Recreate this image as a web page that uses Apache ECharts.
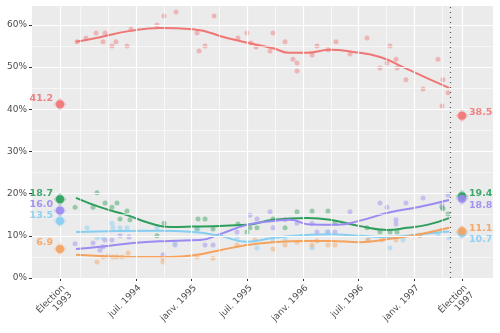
<!DOCTYPE html>
<html>
<head>
<meta charset="utf-8">
<script src="https://cdn.jsdelivr.net/npm/echarts@6/dist/echarts.min.js"></script>
<style>
  html, body { margin: 0; padding: 0; background: #ffffff; }
  #chart { width: 500px; height: 333px; }
</style>
</head>
<body>
<div id="chart"></div>
<script>
// Horizontal positions are expressed in months counted from January 1993.
const xTickValues = [9.81, 18, 24, 30, 36, 42, 48, 53.13];
const xTickLabels = ['Élection\n1993', 'juil. 1994', 'janv. 1995', 'juil. 1995',
                     'janv. 1996', 'juil. 1996', 'janv. 1997', 'Élection\n1997'];
const xMinorGrid = [12, 15, 21, 27, 33, 39, 45, 51];
const yTickValues = [0, 10, 20, 30, 40, 50, 60];
const yMinorGrid = [5, 15, 25, 35, 45, 55];

const electionDates = [9.81, 53.13];
const dissolutionDate = 51.84;

// Election results (1993, 1997)
const resultsRouge  = [41.2, 38.5];
const resultsVert   = [18.7, 19.4];
const resultsViolet = [16.0, 18.8];
const resultsBleu   = [13.5, 10.7];
const resultsOrange = [6.9, 11.1];

// Individual polls: [month, percent]
const pollsRouge = [
  [11.64, 56.0], [12.61, 56.9], [13.69, 58.1], [14.44, 56.0], [14.66, 58.1], [15.41, 55.0],
  [15.84, 56.0], [17.03, 55.0], [17.46, 59.0], [20.26, 60.0], [21.02, 62.1], [22.31, 63.1],
  [24.57, 58.1], [24.79, 53.8], [25.44, 55.0], [26.41, 62.1], [28.99, 56.9], [29.96, 58.1],
  [30.39, 55.7], [30.93, 54.8], [32.44, 53.8], [32.76, 58.1], [34.06, 56.0], [34.92, 51.9],
  [35.35, 51.0], [35.35, 49.1], [36.97, 52.9], [37.50, 55.0], [38.69, 54.1], [39.55, 56.0],
  [41.06, 53.1], [42.89, 56.9], [44.29, 49.8], [45.05, 51.0], [45.37, 55.0], [46.02, 51.9],
  [46.13, 49.8], [47.09, 47.0], [48.93, 44.8], [50.54, 51.9], [51.08, 47.0], [51.62, 43.9],
  [50.97, 40.8]
];
const pollsVert = [
  [11.43, 16.8], [13.37, 16.8], [13.80, 20.2], [14.66, 17.8], [15.41, 16.8], [15.95, 17.8],
  [16.28, 14.0], [17.03, 15.9], [17.35, 13.8], [20.26, 10.0], [21.02, 13.0], [24.68, 14.0],
  [25.44, 14.0], [24.57, 11.6], [26.30, 11.6], [28.99, 12.8], [29.96, 10.9], [30.28, 11.9],
  [31.04, 11.9], [32.76, 14.0], [34.06, 11.9], [35.35, 15.7], [36.97, 15.9], [38.69, 15.9],
  [39.44, 13.0], [42.89, 11.9], [44.29, 10.9], [45.37, 10.9], [46.13, 10.9], [50.97, 16.8],
  [51.08, 16.4], [51.62, 15.2]
];
const pollsViolet = [
  [11.43, 8.1], [13.37, 8.3], [14.12, 6.6], [14.44, 7.4], [14.66, 9.0], [15.41, 9.0],
  [16.28, 10.0], [17.25, 9.7], [20.91, 5.5], [22.20, 7.8], [25.44, 7.8], [26.30, 7.8],
  [28.88, 10.9], [30.28, 14.9], [31.04, 14.0], [32.44, 15.7], [32.76, 11.9], [34.06, 13.8],
  [35.35, 13.0], [36.97, 13.0], [37.50, 10.9], [38.69, 10.9], [39.44, 10.9], [41.06, 15.7],
  [44.29, 17.8], [45.05, 16.8], [46.02, 13.8], [46.02, 12.8], [47.09, 17.8], [48.93, 19.0],
  [50.97, 17.3], [51.62, 19.7]
];
const pollsBleu = [
  [12.72, 11.9], [13.80, 9.5], [14.44, 9.5], [15.41, 13.0], [15.52, 11.9], [16.28, 11.9],
  [17.03, 11.9], [20.26, 11.9], [22.20, 8.5], [24.68, 11.6], [28.88, 9.5], [31.04, 7.1],
  [32.76, 9.2], [34.06, 9.0], [36.97, 7.1], [38.58, 10.9], [43.00, 9.0], [45.37, 7.1],
  [46.77, 9.0], [48.60, 10.2], [50.54, 10.2], [51.73, 9.5]
];
const pollsOrange = [
  [13.80, 3.8], [14.44, 5.0], [14.98, 5.2], [15.52, 5.0], [15.95, 5.0], [16.49, 5.0],
  [17.14, 5.9], [20.91, 4.7], [20.91, 3.8], [24.57, 5.0], [26.30, 4.7], [28.88, 7.8],
  [30.82, 9.0], [32.76, 6.9], [34.06, 7.8], [35.35, 8.5], [36.97, 7.8], [37.50, 8.8],
  [38.69, 7.8], [39.44, 7.8], [43.00, 9.0], [44.51, 9.0], [46.02, 9.0], [48.60, 10.0],
  [50.97, 11.4]
];

// Smoothed trends: [month, percent]
const trendRouge = [
  [11.53, 56.0], [14.12, 57.1], [17.35, 58.6], [20.59, 59.3], [24.14, 59.0], [27.81, 56.9],
  [31.04, 55.3], [32.76, 54.5], [34.59, 53.4], [36.43, 53.4], [38.91, 54.1], [41.38, 53.6],
  [44.29, 52.4], [46.77, 50.0], [49.36, 47.4], [51.73, 45.1]
];
const trendVert = [
  [11.53, 19.0], [14.12, 16.8], [17.03, 14.9], [19.51, 13.0], [21.66, 12.1], [24.14, 12.2],
  [29.96, 12.6], [32.76, 13.8], [36.43, 14.2], [38.91, 13.8], [42.14, 12.3], [45.05, 11.4],
  [47.20, 11.9], [49.36, 12.6], [51.73, 14.2]
];
const trendViolet = [
  [11.53, 6.9], [14.12, 7.4], [17.68, 8.3], [21.66, 8.8], [24.90, 9.0], [27.05, 10.4],
  [29.96, 12.6], [32.76, 13.5], [34.59, 13.8], [36.75, 12.7], [39.66, 12.6], [42.14, 13.6],
  [45.05, 15.4], [48.60, 16.9], [51.73, 18.5]
];
const trendBleu = [
  [11.53, 10.9], [20.59, 11.2], [24.14, 10.9], [27.05, 10.0], [29.96, 8.6], [32.76, 9.5],
  [36.43, 10.2], [38.91, 10.4], [42.14, 10.0], [45.05, 9.7], [48.60, 10.4], [51.73, 11.0]
];
const trendOrange = [
  [11.53, 5.5], [17.68, 5.0], [21.66, 5.0], [24.57, 5.5], [27.05, 6.6], [29.96, 7.8],
  [32.76, 8.5], [36.43, 8.8], [38.91, 8.8], [42.14, 8.5], [45.05, 9.2], [48.60, 10.4],
  [51.73, 11.9]
];

const FONT = 'DejaVu Sans';
const TEXT_GREY = '#4d4d4d';

const parties = [
  { key: 'rouge',  color: '#f07575', polls: pollsRouge,  trend: trendRouge,  results: resultsRouge,  nudgeRight: [0, -3] },
  { key: 'vert',   color: '#2e9e5c', polls: pollsVert,   trend: trendVert,   results: resultsVert,   nudgeRight: [0, -3] },
  { key: 'violet', color: '#9a8af2', polls: pollsViolet, trend: trendViolet, results: resultsViolet, nudgeRight: [0, 7] },
  { key: 'bleu',   color: '#86cdf2', polls: pollsBleu,   trend: trendBleu,   results: resultsBleu,   nudgeRight: [0, 7] },
  { key: 'orange', color: '#f5a25e', polls: pollsOrange, trend: trendOrange, results: resultsOrange, nudgeRight: [0, -3] }
];

function gridLines(values, width) {
  return values.map(v => ({ xAxis: v, lineStyle: { color: '#ffffff', width: width, type: 'solid' } }));
}
function gridLinesY(values, width) {
  return values.map(v => ({ yAxis: v, lineStyle: { color: '#ffffff', width: width, type: 'solid' } }));
}

const series = [];

// Panel grid lines
series.push({
  type: 'line', data: [], z: 1, silent: true, animation: false,
  markLine: {
    silent: true, animation: false, symbol: ['none', 'none'], label: { show: false },
    data: [
      ...gridLinesY(yMinorGrid, 0.6), ...gridLines(xMinorGrid, 0.6),
      ...gridLinesY(yTickValues, 1.2), ...gridLines(xTickValues, 1.2)
    ]
  }
});

// Polls
parties.forEach(p => {
  series.push({
    type: 'scatter', name: p.key, data: p.polls, z: 2,
    symbol: 'circle', symbolSize: 5,
    itemStyle: { color: p.color, opacity: 0.45 },
    animation: false, silent: true
  });
});

// Trends
parties.forEach(p => {
  series.push({
    type: 'line', name: p.key, data: p.trend, z: 3,
    smooth: 0.5, showSymbol: false, symbol: 'none',
    lineStyle: { color: p.color, width: 2 },
    animation: false, silent: true
  });
});

// Dissolution marker
series.push({
  type: 'line', data: [], z: 4, silent: true, animation: false,
  markLine: {
    silent: true, animation: false, symbol: ['none', 'none'], label: { show: false },
    lineStyle: { color: '#555555', width: 1.2, type: [1, 4] },
    data: [{ xAxis: dissolutionDate }]
  }
});

// Election results
parties.forEach(p => {
  const pts = electionDates.map((d, i) => [d, p.results[i]]);
  series.push({
    type: 'scatter', data: pts, z: 5, symbol: 'diamond', symbolSize: 13,
    itemStyle: { color: p.color, opacity: 0.35 }, animation: false, silent: true
  });
  series.push({
    type: 'scatter', z: 6, symbol: 'circle', symbolSize: 8,
    itemStyle: { color: p.color, opacity: 0.9 }, animation: false, silent: true,
    data: pts.map((pt, i) => ({
      value: pt,
      label: {
        show: true,
        position: i === 0 ? 'left' : 'right',
        distance: 3,
        offset: i === 0 ? [0, -6] : p.nudgeRight,
        formatter: params => params.value[1].toFixed(1),
        color: p.color, fontFamily: FONT, fontSize: 9.5, fontWeight: 'bold'
      }
    }))
  });
});

const chart = echarts.init(document.getElementById('chart'), null, { renderer: 'canvas' });
chart.setOption({
  animation: false,
  backgroundColor: '#ffffff',
  grid: { left: 32, right: 7, top: 6, bottom: 55, show: true, backgroundColor: '#ebebeb', borderWidth: 0 },
  xAxis: {
    type: 'value', min: 6.79, max: 56.47,
    axisLine: { show: false },
    splitLine: { show: false },
    axisTick: { show: true, customValues: xTickValues, length: 3, lineStyle: { color: '#333333', width: 1 } },
    axisLabel: {
      customValues: xTickValues,
      formatter: v => {
        let best = 0;
        xTickValues.forEach((t, i) => { if (Math.abs(t - v) < Math.abs(xTickValues[best] - v)) best = i; });
        return xTickLabels[best];
      },
      rotate: 45, margin: 5, fontFamily: FONT, fontSize: 9, color: TEXT_GREY,
      align: 'right', verticalAlign: 'top', lineHeight: 10
    }
  },
  yAxis: {
    type: 'value', min: 0, max: 64.5,
    axisLine: { show: false },
    splitLine: { show: false },
    axisTick: { show: true, customValues: yTickValues, length: 3, lineStyle: { color: '#333333', width: 1 } },
    axisLabel: {
      customValues: yTickValues,
      formatter: v => Math.round(v) + '%',
      margin: 5, fontFamily: FONT, fontSize: 9, color: TEXT_GREY
    }
  },
  series: series
});
</script>
</body>
</html>
